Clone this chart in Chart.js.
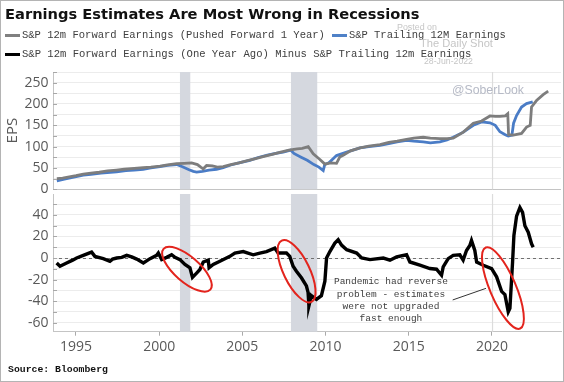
<!DOCTYPE html>
<html><head><meta charset="utf-8">
<script src="https://cdn.jsdelivr.net/npm/chart.js@4/dist/chart.umd.min.js"></script>
<style>
html,body{margin:0;padding:0;background:#fff;}
#wrap{position:relative;width:564px;height:382px;overflow:hidden;background:#fff;}
#frame{position:absolute;left:0;top:0;width:562px;height:380px;border:1px solid #b4b4b4;pointer-events:none;}
canvas{position:absolute;left:0;top:0;}
.t{position:absolute;white-space:nowrap;line-height:1;}
.mk{position:absolute;height:3px;width:15px;}
.mono{font-family:"Liberation Mono","DejaVu Sans Mono",monospace;color:#404040;font-size:10.5px;}
.wm{font-family:"Liberation Sans",Arial,sans-serif;color:#c6c6c6;}
</style></head>
<body>
<div id="wrap">
  <canvas id="top" width="564" height="382"></canvas>
  <canvas id="bot" width="564" height="382"></canvas>
  <div class="t" id="title" data-x="5" data-cy="14" data-w="415" style="font-family:'DejaVu Sans',Verdana,sans-serif;font-weight:bold;font-size:16px;color:#111;">Earnings Estimates Are Most Wrong in Recessions</div>
  <div class="mk" style="left:5px;top:34px;background:#808080;"></div>
  <div class="t mono" id="lg1" data-x="22" data-cy="35" data-w="303">S&amp;P 12m Forward Earnings (Pushed Forward 1 Year)</div>
  <div class="mk" style="left:332px;top:34px;background:#4f81c7;"></div>
  <div class="t mono" id="lg2" data-x="349" data-cy="35" data-w="157">S&amp;P Trailing 12M Earnings</div>
  <div class="mk" style="left:5px;top:53px;background:#000;"></div>
  <div class="t mono" id="lg3" data-x="22" data-cy="54" data-w="450">S&amp;P 12m Forward Earnings (One Year Ago) Minus S&amp;P Trailing 12m Earnings</div>
  <div class="t wm" id="wm1" data-x="397" data-cy="27" data-w="40" style="font-size:10px;">Posted on</div>
  <div class="t wm" id="wm2" data-x="420" data-cy="43" data-w="73" style="font-size:12px;">The Daily Shot</div>
  <div class="t wm" id="wm3" data-x="424" data-cy="61" data-w="49" style="font-size:10px;">28-Jun-2022</div>
  <div class="t wm" id="wm4" data-x="452" data-cy="90" data-w="72" style="font-size:14px;color:#b6bac6;">@SoberLook</div>
  <div class="t mono" id="src" data-x="8" data-cy="370" data-w="100" style="font-weight:bold;color:#111;">Source: Bloomberg</div>
  <div id="frame"></div>
</div>
<script>
// ---------- data ----------
const grayYears = [1993.85,1994.2,1994.6,1995.0,1995.44,1995.9,1996.4,1996.9,1997.44,1997.9,1998.5,1999.04,1999.5,2000.05,2000.5,2001.05,2001.5,2001.95,2002.3,2002.5,2002.65,2002.85,2003.2,2003.5,2003.85,2004.3,2004.8,2005.3,2005.8,2006.3,2006.8,2007.3,2007.8,2008.3,2008.6,2008.96,2009.26,2009.66,2009.96,2010.3,2010.66,2010.86,2011.06,2011.5,2012.07,2012.6,2013.27,2013.8,2014.3,2014.87,2015.3,2015.87,2016.3,2016.87,2017.3,2017.67,2018.28,2018.88,2019.38,2019.88,2020.2,2020.48,2020.8,2020.95,2021.0,2021.28,2021.5,2021.78,2022.08,2022.3,2022.38,2022.68,2023.08,2023.38];
const grayEPS   = [25,26,29,32,35.7,38,40,43,45,47,49,50.5,52,54.4,57,60,61,62,58,52,48,56,55,52,53,58,62,67,72,77,82,87,92,95,96,100,83,70,59,62,61,76,80,90,97,101,105,110,113,117,120,122,120,119,119,120,134,155,160,172,171,171,172,177,128,127,129,131,146,150,193,208,222,230];
const blueYears = [1993.85,1994.3,1994.8,1995.44,1995.9,1996.5,1997.44,1998.0,1998.5,1999.04,1999.5,2000.05,2000.5,2001.05,2001.4,2001.8,2002.05,2002.25,2002.6,2003.0,2003.45,2003.85,2004.3,2004.8,2005.45,2005.9,2006.5,2007.0,2007.45,2007.9,2008.1,2008.5,2008.9,2009.3,2009.6,2009.86,2009.95,2010.2,2010.66,2011.27,2012.07,2012.6,2013.27,2013.8,2014.3,2014.87,2015.3,2015.87,2016.3,2016.87,2017.3,2017.67,2018.28,2018.88,2019.38,2019.88,2020.2,2020.48,2020.8,2020.98,2021.2,2021.3,2021.48,2021.78,2022.08,2022.45];
const blueEPS   = [20,24,28,33,35,38,41,44,45,47,50,53,56,58,53,46,42,40.5,42,45,47,51,57,62,68,74,80,84,87,92,84,76,68,58,52,44,58,62,79,87,97,100,103,107,111,115,113,111,109,111,116,122,134,150,158,156,150,135,128,125,127,155,173,193,201,205];
const diffYears = [1993.84,1994.04,1994.44,1994.8,1995.04,1995.44,1995.94,1996.14,1996.64,1997.04,1997.2,1997.45,1997.75,1998.05,1998.35,1998.65,1999.05,1999.45,1999.85,1999.95,2000.15,2000.45,2000.75,2000.95,2001.25,2001.55,2001.85,2002.0,2002.25,2002.45,2002.65,2002.95,2003.0,2003.25,2003.65,2004.25,2004.55,2005.05,2005.65,2006.05,2006.45,2006.95,2007.15,2007.65,2007.85,2008.05,2008.25,2008.55,2008.85,2008.95,2009.0,2009.15,2009.45,2009.75,2009.96,2010.06,2010.26,2010.56,2010.76,2010.96,2011.27,2011.87,2012.17,2012.67,2013.47,2013.87,2014.27,2014.87,2015.07,2015.67,2016.27,2016.67,2016.97,2017.07,2017.37,2017.67,2018.07,2018.27,2018.47,2018.67,2018.77,2018.97,2019.08,2019.48,2019.98,2020.28,2020.58,2020.78,2020.98,2021.08,2021.24,2021.32,2021.48,2021.68,2021.84,2021.98,2022.18,2022.38,2022.48];
const diffVals  = [-4.6,-7.7,-4.6,-2,0,2.5,5.5,1.5,-0.6,-3,-1,0,0.6,2.5,1,-1,-4.6,-0.6,2.5,4.6,-1.5,0.6,3,0.6,-1.5,-6,-9.2,-18,-14,-10.7,-3.7,-2,-9,-6,-3,1.5,4.6,6,3,4.6,6,9.2,4.6,4.6,1.5,-7.7,-12.3,-18.4,-26,-32,-44.5,-35,-38.4,-35,-21.5,0,6,13.8,17,12,7.7,4.6,0,-1.5,0,-2,1,3,-3.7,-6.7,-9.8,-10.4,-16,-8.3,-0.6,2.5,3,-2,7,11.7,16.3,7,-3.7,-6.7,-9.8,-17.5,-31,-34,-50,-46.7,-3.7,21,39,47,42.4,30,24,13.2,10];
const xTickYears = [1995,2000,2005,2010,2015,2020];
const recStart = [2001.25,2007.92,2020.0];
const recEnd   = [2001.87,2009.5,2020.07];
const noteLines = ['Pandemic had reverse','problem - estimates','were not upgraded','fast enough'];
const noteAnchor = [2013.93,-22.1];
const notePointer = [[2017.64,-39],[2019.64,-28.2]];
const ovalCenters = [[2001.67,-10.4],[2008.26,-12.3],[2020.66,-27.9]];
const ovalSizes = [[31,12.5,41],[34,13,64],[44,13,67]];

// ---------- text fitting ----------
document.querySelectorAll('.t').forEach(el=>{
  const w = parseFloat(el.dataset.w);
  let fs = parseFloat(getComputedStyle(el).fontSize);
  const cw = el.getBoundingClientRect().width;
  fs = fs * w / cw;
  el.style.fontSize = fs.toFixed(2)+'px';
  el.style.left = el.dataset.x+'px';
  el.style.top = (parseFloat(el.dataset.cy) - 0.47*fs).toFixed(1)+'px';
});

const xMin = 1993.62, xMax = 2024.15;
const tickFont = {family:"'Open Sans', sans-serif", size:14};
const tickCol = '#595959';
const pts = (xs, ys) => xs.map((x,i)=>({x:x, y:ys[i]}));

const bandPlugin = {
  id:'bands',
  beforeDatasetsDraw(chart){
    const {ctx, chartArea:a, scales:{x}} = chart;
    ctx.save();
    for(let i=0;i<recStart.length;i++){
      const x0 = x.getPixelForValue(recStart[i]), x1 = x.getPixelForValue(recEnd[i]);
      ctx.fillStyle = i===2 ? '#dcdcdc' : '#d5d8df';
      ctx.fillRect(x0, a.top, Math.max(1,x1-x0), a.bottom-a.top);
    }
    ctx.restore();
  }
};
const innerTicks = {
  id:'innerTicks',
  afterDraw(chart){
    const {ctx, chartArea:a, scales:{y}} = chart;
    ctx.save(); ctx.strokeStyle='#a8a8a8'; ctx.lineWidth=1;
    y.ticks.forEach(t=>{
      const py = Math.round(y.getPixelForValue(t.value))+0.5;
      ctx.beginPath(); ctx.moveTo(a.left, py); ctx.lineTo(a.left+4, py); ctx.stroke();
    });
    ctx.restore();
  }
};

new Chart(document.getElementById('top'), {
  type:'line',
  data:{datasets:[
    {label:'S&P 12m Forward Earnings (Pushed Forward 1 Year)', data:pts(grayYears,grayEPS), borderColor:'#7d7d7d', borderWidth:2.8, pointRadius:0, tension:0},
    {label:'S&P Trailing 12M Earnings', data:pts(blueYears,blueEPS), borderColor:'#4a7cc6', borderWidth:2.8, pointRadius:0, tension:0}
  ]},
  options:{
    responsive:false, animation:false, devicePixelRatio:1,
    layout:{padding:{left:0,right:3,top:72,bottom:382-189.3}},
    plugins:{legend:{display:false}, tooltip:{enabled:false}},
    scales:{
      x:{type:'linear', min:xMin, max:xMax, display:false},
      y:{min:0, max:275, afterFit(s){s.width=53;},
         border:{display:true,color:'#c4c4c4'},
         grid:{drawTicks:false, color:c=> (c.tick && c.tick.value===0) ? '#c4c4c4' : '#ececec'},
         ticks:{stepSize:25, autoSkip:false, padding:4.5, color:tickCol, font:tickFont, callback:v=> v%50===0 ? String(v) : ''},
         title:{display:true, text:'EPS', color:tickCol, font:{family:"'Open Sans', sans-serif", size:15}, padding:{top:4,bottom:0}}
      }
    }
  },
  plugins:[bandPlugin, innerTicks]
});

const bottomExtras = {
  id:'bottomExtras',
  beforeDatasetsDraw(chart){
    const {ctx, chartArea:a, scales:{y}} = chart;
    const py = Math.round(y.getPixelForValue(0))+0.5;
    ctx.save(); ctx.strokeStyle='#707070'; ctx.lineWidth=1; ctx.setLineDash([3,3]);
    ctx.beginPath(); ctx.moveTo(a.left,py); ctx.lineTo(a.right,py); ctx.stroke();
    ctx.restore();
  },
  afterDatasetsDraw(chart){
    const {ctx, scales:{x,y}} = chart;
    ctx.save();
    ctx.strokeStyle='#e3241d'; ctx.lineWidth=2;
    ovalCenters.forEach((c,i)=>{
      const [a,b,ang] = ovalSizes[i];
      ctx.save();
      ctx.translate(x.getPixelForValue(c[0]), y.getPixelForValue(c[1]));
      ctx.rotate(ang*Math.PI/180);
      ctx.beginPath(); ctx.ellipse(0,0,a,b,0,0,2*Math.PI); ctx.stroke();
      ctx.restore();
    });
    ctx.strokeStyle='#333'; ctx.lineWidth=1;
    ctx.beginPath();
    ctx.moveTo(x.getPixelForValue(notePointer[0][0]), y.getPixelForValue(notePointer[0][1]));
    ctx.lineTo(x.getPixelForValue(notePointer[1][0]), y.getPixelForValue(notePointer[1][1]));
    ctx.stroke();
    ctx.fillStyle='#404040'; ctx.font='9.5px "Liberation Mono", monospace';
    ctx.textAlign='center'; ctx.textBaseline='middle';
    const nx = x.getPixelForValue(noteAnchor[0]), ny = y.getPixelForValue(noteAnchor[1]);
    noteLines.forEach((s,i)=> ctx.fillText(s, nx, ny + i*12.3));
    ctx.restore();
  }
};

new Chart(document.getElementById('bot'), {
  type:'line',
  data:{datasets:[
    {label:'S&P 12m Forward Earnings (One Year Ago) Minus S&P Trailing 12m Earnings', data:pts(diffYears,diffVals), borderColor:'#000', borderWidth:3.4, pointRadius:0, tension:0}
  ]},
  options:{
    responsive:false, animation:false, devicePixelRatio:1,
    layout:{padding:{left:0,right:3,top:194,bottom:382-331.7-28}},
    plugins:{legend:{display:false}, tooltip:{enabled:false}},
    scales:{
      x:{type:'linear', min:xMin, max:xMax,
         afterBuildTicks(s){ s.ticks = xTickYears.map(v=>({value:v})); },
         afterFit(s){ s.height=28; },
         border:{display:true,color:'#c4c4c4'},
         grid:{drawOnChartArea:false, drawTicks:true, tickLength:4, tickColor:'#aaa'},
         ticks:{color:tickCol, font:tickFont, padding:3, maxRotation:0, autoSkip:false, callback:v=>String(v)}
      },
      y:{min:-68.5, max:59.5, afterFit(s){s.width=53;},
         border:{display:true,color:'#c4c4c4'},
         grid:{drawTicks:false, color:'#ececec'},
         ticks:{stepSize:10, includeBounds:false, autoSkip:false, padding:4.5, color:tickCol, font:tickFont, callback:v=> v%20===0 ? String(v) : ''}
      }
    }
  },
  plugins:[bandPlugin, innerTicks, bottomExtras]
});
</script>
</body></html>
